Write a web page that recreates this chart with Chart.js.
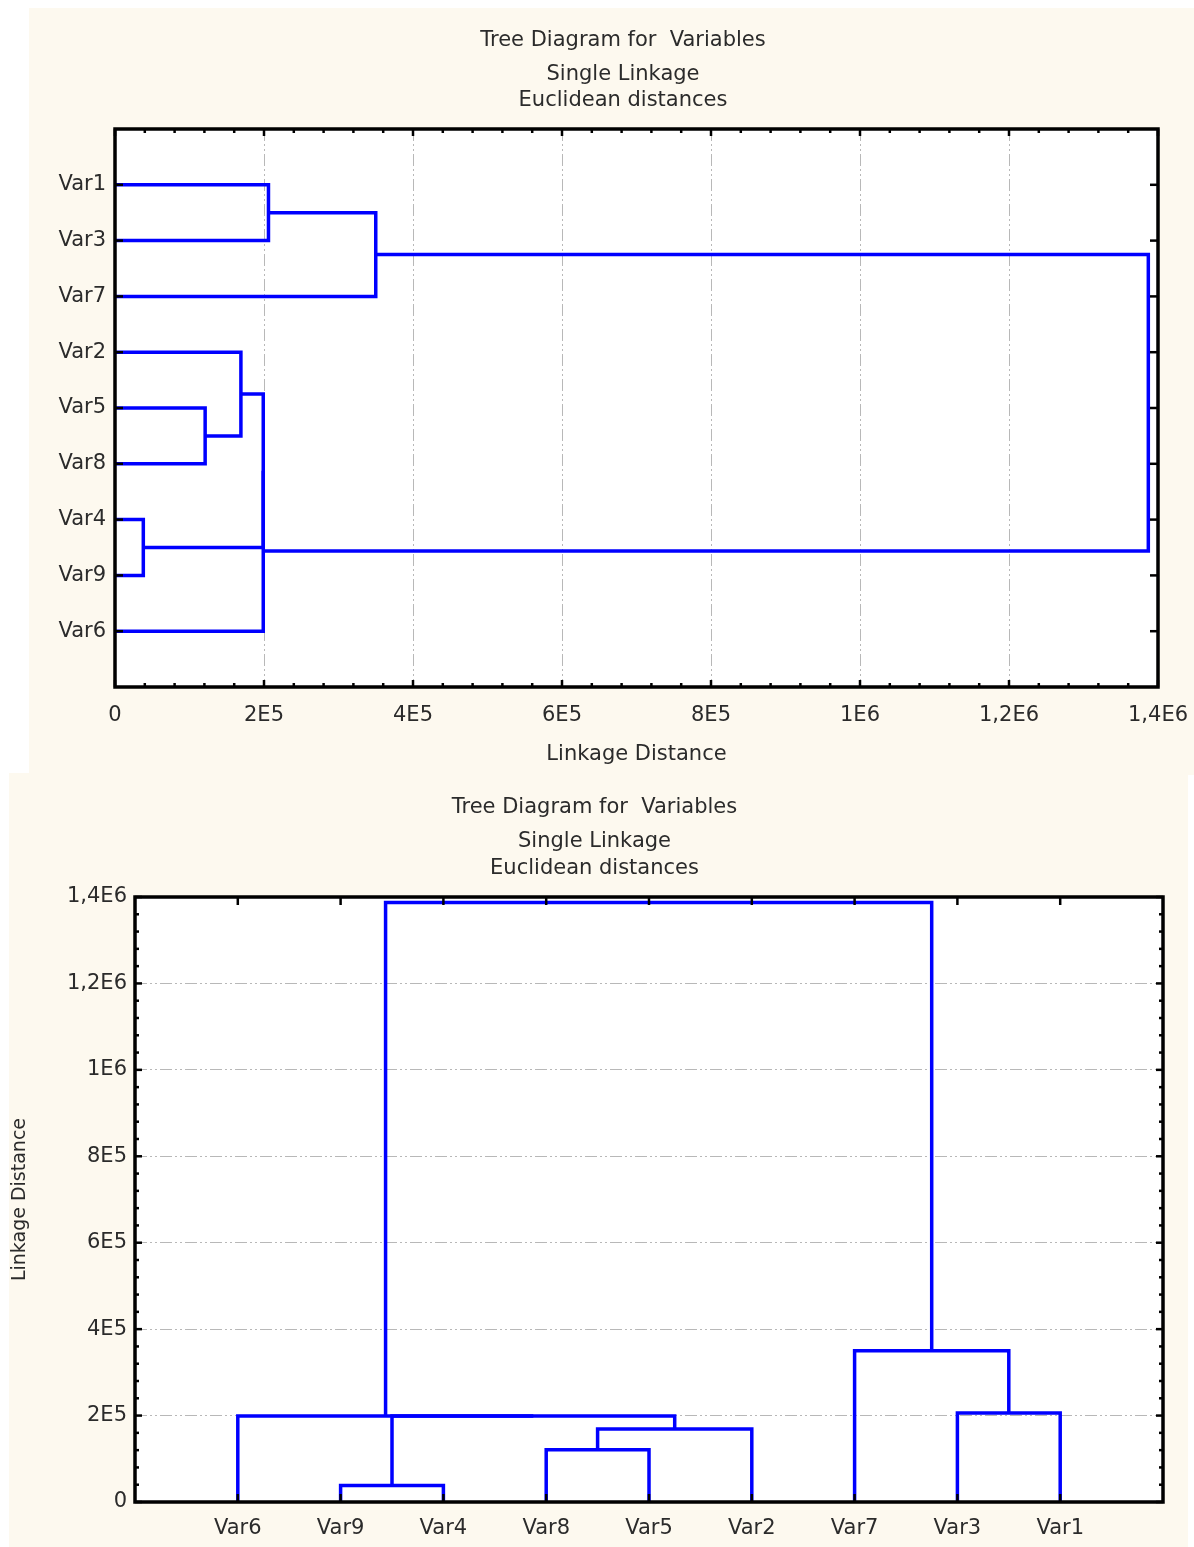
<!DOCTYPE html>
<html>
<head>
<meta charset="utf-8">
<script src="https://cdn.jsdelivr.net/npm/chart.js@4.4.1/dist/chart.umd.min.js"></script>
<style>
  body { margin: 0; background: #fff; width: 1194px; height: 1547px; position: relative; overflow: hidden; }
  .panel { position: absolute; background: #fdf9ef; }
  #topPanel { left: 29px; top: 8px; width: 1165px; height: 767px; }
  #bottomPanel { left: 9px; top: 773px; width: 1179px; height: 774px; }
  canvas { position: absolute; top: 0; }
  #topChart { left: 23px; }
  #bottomChart { left: 0; }
</style>
</head>
<body>
<div class="panel" id="topPanel"><canvas id="topChart" width="1142" height="767"></canvas></div>
<div class="panel" id="bottomPanel"><canvas id="bottomChart" width="1171" height="774"></canvas></div>
<script>
// leaf order as shown in each diagram
const leavesTop = ['Var1', 'Var3', 'Var7', 'Var2', 'Var5', 'Var8', 'Var4', 'Var9', 'Var6'];
const leavesBottom = ['Var6', 'Var9', 'Var4', 'Var8', 'Var5', 'Var2', 'Var7', 'Var3', 'Var1'];

// single linkage merge steps; 'C<n>' is the cluster made at step n
const mergeA = ['Var4', 'Var5', 'C2', 'C3', 'C4', 'Var1', 'C6', 'C5'];
const mergeB = ['Var9', 'Var8', 'Var2', 'C1', 'Var6', 'Var3', 'Var7', 'C7'];
const mergeDist = [38000, 121000, 169000, 199000, 199000, 206000, 350000, 1387000];

const distanceTicks = [0, 200000, 400000, 600000, 800000, 1000000, 1200000, 1400000];
const distanceTickLabels = ['0', '2E5', '4E5', '6E5', '8E5', '1E6', '1,2E6', '1,4E6'];

const titleLines = ['Tree Diagram for  Variables', 'Single Linkage', 'Euclidean distances'];

const FONT = 'DejaVu Sans';
const TEXT = '#2b2b2b';
const BLUE = '#0000ff';

// U-shaped links: [height, position] points per merge
function buildLinks(order) {
    const pos = {}, height = {};
    order.forEach((name, i) => { pos[name] = i + 1; height[name] = 0; });
    return mergeDist.map((d, k) => {
        const a = mergeA[k], b = mergeB[k], id = 'C' + (k + 1);
        pos[id] = (pos[a] + pos[b]) / 2;
        height[id] = d;
        const path = [[height[a], pos[a]], [d, pos[a]], [d, pos[b]], [height[b], pos[b]]];
        // drop zero-length legs (child merged at the same height)
        return path.filter((p, i) => i === 0 || p[0] !== path[i - 1][0] || p[1] !== path[i - 1][1]);
    });
}

function linkDatasets(order, horizontal) {
    return buildLinks(order).map(path => ({
        data: path.map(([h, p]) => horizontal ? { x: h, y: p } : { x: p, y: h }),
        showLine: true,
        borderColor: BLUE,
        borderWidth: 3.5,
        borderJoinStyle: 'miter',
        pointRadius: 0,
        tension: 0
    }));
}

const gridColor = ctx => (ctx.tick.value > 0 && ctx.tick.value < 1400000) ? '#b8b8b8' : 'transparent';

const framePlugin = {
    id: 'frame',
    beforeDraw(chart) {
        const { ctx, chartArea: a } = chart;
        ctx.save();
        ctx.fillStyle = '#fff';
        ctx.fillRect(a.left, a.top, a.width, a.height);
        ctx.restore();
    },
    afterDatasetsDraw(chart, args, o) {
        const { ctx, chartArea: a } = chart;
        const dist = chart.scales[o.distAxis], cat = chart.scales[o.catAxis];
        ctx.save();
        ctx.strokeStyle = '#000';
        ctx.lineWidth = 2.5;
        const line = (x1, y1, x2, y2) => { ctx.beginPath(); ctx.moveTo(x1, y1); ctx.lineTo(x2, y2); ctx.stroke(); };
        const mark = (scale, v, len) => {
            const p = scale.getPixelForValue(v);
            if (scale.isHorizontal()) {
                line(p, a.top, p, a.top + len);
                line(p, a.bottom, p, a.bottom - len);
            } else {
                line(a.left, p, a.left + len, p);
                line(a.right, p, a.right - len, p);
            }
        };
        distanceTicks.forEach((v, i) => {
            mark(dist, v, 7);
            if (i > 0) {
                const prev = distanceTicks[i - 1];
                for (let j = 1; j < 5; j++) mark(dist, prev + (v - prev) * j / 5, 4);
            }
        });
        o.leaves.forEach((n, i) => mark(cat, i + 1, 8));
        ctx.lineWidth = 3.5;
        ctx.strokeRect(a.left, a.top, a.width, a.height);
        ctx.restore();
    },
    afterDraw(chart, args, o) {
        const ctx = chart.ctx;
        ctx.save();
        ctx.fillStyle = TEXT;
        ctx.font = '21px "' + FONT + '"';
        ctx.textAlign = 'center';
        ctx.textBaseline = 'middle';
        titleLines.forEach((t, i) => ctx.fillText(t, chart.width / 2, o.titleY[i]));
        ctx.restore();
    }
};

const tickFont = { family: FONT, size: 21 };

document.addEventListener('DOMContentLoaded', () => {
    new Chart(document.getElementById('topChart'), {
        type: 'scatter',
        data: { datasets: linkDatasets(leavesTop, true) },
        options: {
            responsive: false,
            animation: false,
            layout: { padding: { left: 0, right: 36, top: 121, bottom: 0 } },
            plugins: {
                legend: { display: false },
                tooltip: { enabled: false },
                frame: { distAxis: 'x', catAxis: 'y', leaves: leavesTop, titleY: [33, 67, 93] }
            },
            scales: {
                x: {
                    type: 'linear', min: 0, max: 1400000,
                    afterBuildTicks: s => { s.ticks = distanceTicks.map(v => ({ value: v })); },
                    afterFit: s => { s.height = 88; s.paddingLeft = 0; s.paddingRight = 0; },
                    ticks: { callback: (v, i) => distanceTickLabels[i], font: tickFont, color: TEXT, padding: 16, maxRotation: 0, autoSkip: false },
                    grid: { drawTicks: false, color: gridColor, lineWidth: 1 },
                    border: { display: false, dash: [12, 3, 2, 3, 2, 3] },
                    title: { display: true, text: 'Linkage Distance', font: tickFont, color: TEXT, padding: { top: 0, bottom: 8 } }
                },
                y: {
                    type: 'linear', min: 0, max: 10, reverse: true,
                    afterBuildTicks: s => { s.ticks = leavesTop.map((n, i) => ({ value: i + 1 })); },
                    afterFit: s => { s.width = 63; },
                    ticks: { callback: v => leavesTop[v - 1], font: tickFont, color: TEXT, padding: 9, autoSkip: false },
                    grid: { display: false, drawTicks: false },
                    border: { display: false }
                }
            }
        },
        plugins: [framePlugin]
    });

    new Chart(document.getElementById('bottomChart'), {
        type: 'scatter',
        data: { datasets: linkDatasets(leavesBottom, false) },
        options: {
            responsive: false,
            animation: false,
            layout: { padding: { left: 0, right: 17, top: 124, bottom: 0 } },
            plugins: {
                legend: { display: false },
                tooltip: { enabled: false },
                frame: { distAxis: 'y', catAxis: 'x', leaves: leavesBottom, titleY: [35, 69, 96] }
            },
            scales: {
                x: {
                    type: 'linear', min: 0, max: 10,
                    afterBuildTicks: s => { s.ticks = leavesBottom.map((n, i) => ({ value: i + 1 })); },
                    afterFit: s => { s.height = 45; },
                    ticks: { callback: v => leavesBottom[v - 1], font: tickFont, color: TEXT, padding: 14, maxRotation: 0, autoSkip: false },
                    grid: { display: false, drawTicks: false },
                    border: { display: false }
                },
                y: {
                    type: 'linear', min: 0, max: 1400000,
                    afterBuildTicks: s => { s.ticks = distanceTicks.map(v => ({ value: v })); },
                    afterFit: s => { s.width = 126; },
                    ticks: { callback: (v, i) => distanceTickLabels[i], font: tickFont, color: TEXT, padding: 8, autoSkip: false },
                    grid: { drawTicks: false, color: gridColor, lineWidth: 1 },
                    border: { display: false, dash: [12, 3, 2, 3, 2, 3] },
                    title: { display: true, text: 'Linkage Distance', font: { family: FONT, size: 19 }, color: TEXT, padding: 0 }
                }
            }
        },
        plugins: [framePlugin]
    });
});
</script>
</body>
</html>
